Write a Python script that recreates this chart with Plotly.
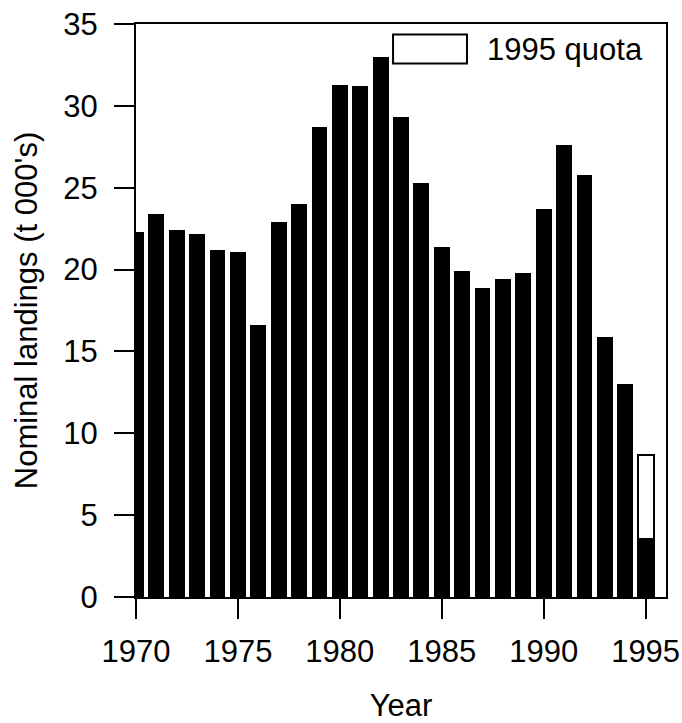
import plotly.graph_objects as go

# Nominal landings by year (thousand tonnes) and the 1995 quota
years = list(range(1970, 1996))
landings = [22.3, 23.4, 22.4, 22.2, 21.2, 21.1, 16.6, 22.9, 24.0, 28.7,
            31.3, 31.2, 33.0, 29.3, 25.3, 21.4, 19.9, 18.9, 19.4, 19.8,
            23.7, 27.6, 25.8, 15.9, 13.0, 3.6]
quota_years = [1995]
quota = [8.7]
legend_label = "1995 quota"

FONT = "Liberation Sans, Arial, Helvetica, sans-serif"

fig = go.Figure()

# Quota drawn first as an open bar, landings overlaid in solid black
fig.add_trace(go.Bar(
    x=quota_years, y=quota, width=0.78,
    marker=dict(color="white", line=dict(color="black", width=2)),
    name=legend_label, showlegend=False,
))
fig.add_trace(go.Bar(
    x=years, y=landings, width=0.78,
    marker=dict(color="black", line=dict(color="black", width=0)),
    name="Landings", showlegend=False,
))

# Key box and label in the upper right
fig.add_shape(type="rect", xref="paper", yref="paper",
              x0=0.485, x1=0.6245, y0=0.931, y1=0.9817,
              line=dict(color="black", width=2), fillcolor="white")
fig.add_annotation(xref="paper", yref="paper", x=0.658, y=0.955,
                   text=legend_label, showarrow=False,
                   xanchor="left", yanchor="middle",
                   font=dict(family=FONT, size=31, color="black"))

axis_common = dict(
    showline=True, linecolor="black", linewidth=2, mirror=True,
    ticks="outside", ticklen=20, tickwidth=2, tickcolor="black",
    showgrid=False, zeroline=False, automargin=False,
    tickfont=dict(family=FONT, size=31, color="black"),
)

fig.update_layout(
    width=682, height=723,
    margin=dict(l=136, r=16, t=24, b=126),
    plot_bgcolor="white", paper_bgcolor="white",
    barmode="overlay", bargap=0,
    xaxis=dict(range=[1970, 1996], tickvals=[1970, 1975, 1980, 1985, 1990, 1995],
               ticklabelstandoff=6,
               title=dict(text="Year", standoff=38,
                          font=dict(family=FONT, size=31, color="black")),
               **axis_common),
    yaxis=dict(range=[0, 35], tickvals=[0, 5, 10, 15, 20, 25, 30, 35],
               ticklabelstandoff=10,
               title=dict(text="Nominal landings (t 000's)", standoff=16,
                          font=dict(family=FONT, size=31, color="black")),
               **axis_common),
)

fig.write_html("out.html")
